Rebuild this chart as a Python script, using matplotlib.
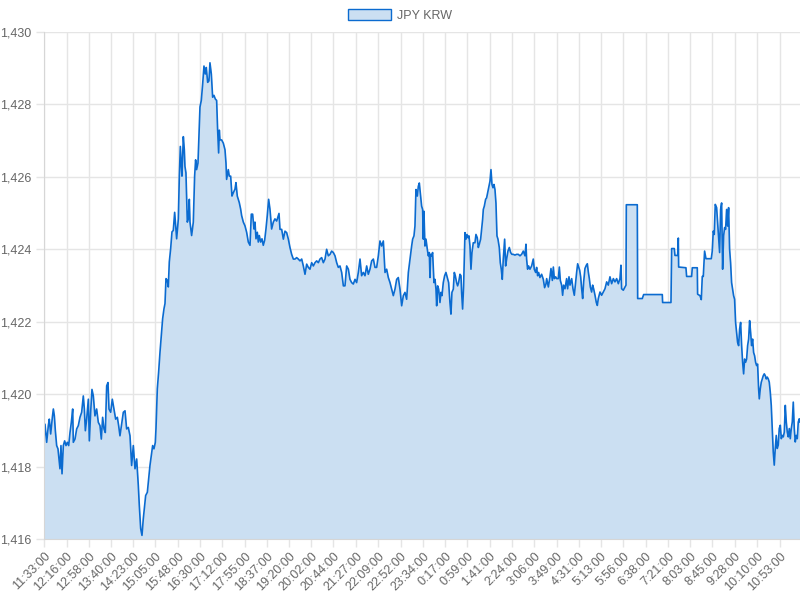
import numpy as np
import matplotlib
matplotlib.use("Agg")
import matplotlib.pyplot as plt
from matplotlib.patches import Patch
from matplotlib.ticker import FuncFormatter

# JPY/KRW readings: minutes after 11:33 and rate
minutes = [
    0.0, 1.9, 5.1, 8.2, 10.1, 12.7, 15.9, 17.8, 19.7, 21.6,
    24.1, 26.6, 28.5, 30.4, 32.3, 34.3, 36.8, 39.3, 41.9, 44.4,
    47.0, 49.5, 52.0, 54.6, 55.8, 59.0, 62.2, 65.3, 68.5, 71.7,
    74.8, 76.8, 78.7, 81.2, 84.4, 86.3, 88.8, 91.3, 93.9, 97.0,
    100.2, 103.4, 106.6, 109.1, 111.6, 114.2, 116.7, 119.3, 121.8, 123.7,
    126.9, 130.0, 133.2, 136.4, 139.6, 142.1, 144.6, 147.8, 151.0, 154.2,
    157.3, 160.5, 163.7, 166.8, 170.0, 173.2, 176.4, 179.5, 181.4, 184.0,
    186.5, 189.0, 190.9, 193.5, 196.7, 199.2, 201.7, 204.9, 206.8, 209.3,
    211.9, 213.2, 215.7, 218.2, 220.8, 223.3, 225.8, 228.4, 230.3, 232.2,
    234.7, 236.6, 238.5, 241.1, 243.6, 246.1, 248.7, 250.6, 252.5, 255.7,
    257.6, 259.5, 261.4, 262.6, 265.2, 267.1, 268.3, 270.2, 272.8, 274.7,
    276.6, 277.9, 281.0, 284.2, 286.7, 288.6, 290.5, 293.1, 295.0, 296.9,
    299.4, 302.0, 304.5, 307.0, 308.9, 311.5, 314.0, 315.9, 318.5, 321.0,
    323.5, 326.1, 328.6, 330.5, 332.4, 333.7, 335.0, 338.1, 341.3, 344.5,
    346.4, 347.6, 350.8, 352.7, 355.3, 357.8, 360.3, 363.5, 365.4, 367.9,
    371.7, 374.3, 376.2, 379.4, 382.5, 385.7, 388.9, 392.1, 394.6, 397.1,
    399.7, 401.6, 403.5, 406.0, 407.9, 409.8, 412.4, 414.9, 417.4, 420.0,
    422.5, 425.0, 427.6, 430.1, 433.3, 436.5, 439.6, 442.9, 447.3, 449.2,
    452.4, 455.6, 458.7, 461.9, 465.1, 468.2, 471.4, 474.6, 477.8, 480.9,
    484.1, 487.3, 490.5, 493.6, 496.8, 500.0, 503.1, 506.3, 509.5, 512.7,
    515.8, 519.0, 522.2, 525.3, 528.5, 531.7, 534.9, 538.0, 541.2, 544.4,
    547.5, 550.7, 553.9, 557.1, 560.2, 563.4, 566.6, 569.8, 572.9, 576.1,
    579.3, 582.4, 585.6, 588.8, 592.0, 595.1, 598.3, 601.5, 604.6, 607.8,
    611.0, 614.2, 617.3, 620.5, 623.7, 626.9, 630.0, 633.2, 636.4, 639.5,
    642.7, 645.9, 649.1, 652.2, 655.4, 658.6, 661.7, 664.9, 668.1, 671.3,
    674.4, 677.6, 680.8, 684.0, 687.1, 690.3, 693.5, 696.6, 699.8, 701.7,
    704.2, 706.1, 708.0, 710.6, 712.5, 714.4, 716.9, 718.8, 720.7, 722.0,
    723.2, 725.1, 727.1, 729.6, 731.5, 733.4, 734.7, 736.0, 737.8, 739.7,
    742.3, 744.2, 746.1, 747.4, 749.3, 751.2, 753.7, 755.6, 757.5, 760.0,
    762.6, 765.1, 767.7, 770.2, 772.7, 774.6, 776.5, 779.1, 781.0, 782.9,
    785.4, 787.3, 789.2, 791.8, 793.7, 794.9, 796.8, 798.7, 801.3, 803.2,
    805.1, 807.0, 808.9, 810.8, 812.7, 814.6, 817.1, 820.3, 822.2, 824.7,
    826.7, 828.6, 831.1, 833.0, 834.9, 836.2, 838.1, 840.6, 842.5, 845.1,
    847.0, 848.9, 850.8, 852.7, 854.6, 856.5, 858.4, 860.3, 862.2, 864.1,
    866.6, 868.5, 870.4, 872.3, 874.2, 876.8, 878.7, 880.6, 883.1, 885.7,
    888.2, 890.7, 893.3, 896.4, 899.6, 902.8, 906.0, 909.1, 912.3, 915.5,
    917.4, 918.6, 920.5, 922.4, 925.0, 928.2, 931.3, 933.2, 935.8, 937.7,
    939.6, 941.5, 944.0, 947.2, 950.4, 952.9, 955.4, 956.8, 960.0, 963.1,
    965.0, 967.6, 969.5, 971.4, 973.9, 975.8, 979.0, 980.9, 982.8, 985.3,
    987.2, 989.1, 991.7, 994.8, 996.7, 999.3, 1001.2, 1004.4, 1006.9, 1009.4,
    1012.0, 1013.9, 1015.8, 1017.7, 1019.6, 1021.5, 1023.4, 1025.3, 1027.2, 1029.7,
    1032.3, 1034.2, 1036.1, 1038.0, 1039.9, 1042.4, 1044.3, 1046.2, 1048.8, 1051.3,
    1053.2, 1055.1, 1058.3, 1061.4, 1064.6, 1067.8, 1071.0, 1074.1, 1077.3, 1080.5,
    1083.7, 1086.8, 1090.0, 1093.2, 1096.3, 1098.2, 1099.5, 1102.7, 1105.9, 1107.8,
    1108.4, 1129.3, 1130.0, 1138.8, 1141.4, 1176.9, 1177.5, 1193.4, 1194.7, 1199.7,
    1201.0, 1206.1, 1207.4, 1208.0, 1221.9, 1223.2, 1232.7, 1234.0, 1243.5, 1244.1,
    1248.6, 1251.1, 1253.0, 1254.9, 1257.4, 1260.0, 1270.1, 1272.0, 1273.9, 1275.8,
    1277.7, 1280.3, 1282.2, 1284.1, 1286.0, 1287.9, 1289.8, 1291.7, 1293.6, 1295.5,
    1297.4, 1299.3, 1301.2, 1303.1, 1305.0, 1306.9, 1308.8, 1310.7, 1312.6, 1314.5,
    1316.4, 1318.3, 1320.2, 1322.2, 1324.1, 1326.0, 1327.9, 1329.8, 1331.7, 1333.6,
    1335.5, 1337.4, 1339.3, 1341.2, 1343.1, 1345.0, 1346.9, 1348.8, 1350.7, 1352.6,
    1354.5, 1356.4, 1358.3, 1360.2, 1361.5, 1363.4, 1365.3, 1367.2, 1369.1, 1371.0,
    1372.9, 1374.8, 1376.7, 1378.6, 1380.5, 1382.4, 1384.3, 1386.2, 1388.1, 1390.0,
    1391.9, 1393.8, 1395.7, 1397.6, 1399.5, 1401.5, 1403.4, 1405.3, 1407.2, 1409.1,
    1411.0, 1412.9, 1414.8, 1416.7, 1418.6, 1420.5, 1422.4, 1424.3, 1426.2, 1428.1,
    1430.0, 1431.9, 1433.8, 1435.7, 1437.6, 1438.9,
]
rate = [
    1418.76, 1419.17, 1418.67, 1419.13, 1419.31, 1418.90, 1419.36, 1419.59, 1419.40, 1418.99,
    1418.58, 1418.49, 1418.21, 1417.94, 1418.58, 1417.80, 1418.58, 1418.71, 1418.58, 1418.67,
    1418.58, 1418.94, 1419.22, 1419.59, 1418.67, 1418.76, 1419.04, 1419.13, 1419.36, 1419.50,
    1419.95, 1419.59, 1418.99, 1419.31, 1419.86, 1418.71, 1419.50, 1420.13, 1419.95, 1419.40,
    1419.59, 1419.22, 1419.13, 1418.76, 1419.36, 1419.04, 1418.94, 1420.23, 1420.32, 1419.59,
    1419.50, 1419.86, 1419.59, 1419.31, 1419.36, 1419.13, 1418.85, 1419.17, 1419.50, 1419.54,
    1419.04, 1419.08, 1418.85, 1418.03, 1418.58, 1417.94, 1418.21, 1417.48, 1416.93, 1416.29,
    1416.10, 1416.56, 1416.83, 1417.20, 1417.29, 1417.66, 1418.03, 1418.39, 1418.58, 1418.49,
    1418.67, 1419.06, 1420.15, 1420.61, 1421.16, 1421.62, 1422.08, 1422.36, 1422.50, 1423.19,
    1423.14, 1422.96, 1423.65, 1424.02, 1424.48, 1424.52, 1425.02, 1424.65, 1424.29, 1424.84,
    1426.02, 1426.84, 1426.29, 1426.02, 1427.11, 1426.75, 1426.29, 1426.11, 1424.75, 1424.84,
    1425.38, 1424.75, 1424.38, 1424.75, 1426.02, 1426.47, 1426.20, 1426.38, 1427.20, 1427.93,
    1428.11, 1428.56, 1429.06, 1428.84, 1429.02, 1428.61, 1428.65, 1429.15, 1428.84, 1428.20,
    1428.25, 1428.15, 1428.11, 1427.29, 1426.66, 1427.29, 1427.02, 1427.02, 1426.93, 1426.75,
    1426.38, 1425.93, 1426.20, 1426.02, 1426.02, 1425.47, 1425.56, 1425.66, 1425.84, 1425.47,
    1425.29, 1425.11, 1424.93, 1424.75, 1424.65, 1424.47, 1424.20, 1424.11, 1424.97, 1424.97,
    1424.56, 1424.75, 1424.29, 1424.47, 1424.20, 1424.38, 1424.20, 1424.29, 1424.11, 1424.25,
    1424.56, 1424.93, 1425.38, 1425.11, 1424.56, 1424.75, 1424.84, 1424.78, 1424.99, 1424.55,
    1424.55, 1424.28, 1424.50, 1424.46, 1424.28, 1424.05, 1423.86, 1423.73, 1423.73, 1423.77,
    1423.73, 1423.68, 1423.73, 1423.54, 1423.31, 1423.59, 1423.50, 1423.45, 1423.63, 1423.54,
    1423.63, 1423.68, 1423.63, 1423.73, 1423.77, 1423.63, 1423.73, 1424.00, 1423.82, 1423.86,
    1423.95, 1423.91, 1423.82, 1423.63, 1423.50, 1423.54, 1423.36, 1422.99, 1422.99, 1423.54,
    1423.45, 1423.17, 1423.08, 1423.04, 1423.17, 1423.08, 1423.36, 1423.73, 1423.27, 1423.36,
    1423.27, 1423.54, 1423.31, 1423.45, 1423.68, 1423.73, 1423.50, 1423.50, 1423.82, 1424.23,
    1424.09, 1424.23, 1423.36, 1423.45, 1423.22, 1423.08, 1422.90, 1422.72, 1422.90, 1423.17,
    1423.22, 1422.90, 1422.44, 1422.72, 1422.81, 1422.62, 1423.36, 1423.73, 1424.09, 1424.28,
    1424.37, 1424.64, 1425.65, 1425.47, 1425.74, 1425.83, 1425.47, 1425.19, 1425.10, 1424.28,
    1425.05, 1424.09, 1424.28, 1424.00, 1423.82, 1423.91, 1423.22, 1423.86, 1423.82, 1423.91,
    1423.08, 1423.17, 1422.90, 1422.44, 1422.99, 1422.90, 1422.53, 1422.81, 1422.72, 1423.08,
    1423.27, 1423.36, 1423.22, 1423.08, 1422.53, 1422.21, 1422.81, 1422.90, 1423.36, 1423.27,
    1423.08, 1422.99, 1423.08, 1423.31, 1423.27, 1422.81, 1422.35, 1422.99, 1424.46, 1424.28,
    1424.41, 1424.32, 1424.37, 1424.09, 1423.45, 1423.91, 1424.18, 1424.18, 1424.41, 1424.32,
    1424.05, 1424.14, 1424.28, 1424.55, 1424.83, 1425.10, 1425.19, 1425.38, 1425.42, 1425.61,
    1425.74, 1425.88, 1426.20, 1425.79, 1425.70, 1425.79, 1425.65, 1425.27, 1424.37, 1424.28,
    1424.05, 1423.63, 1423.45, 1423.17, 1423.73, 1424.28, 1423.54, 1423.73, 1423.95, 1424.05,
    1423.91, 1423.86, 1423.86, 1423.84, 1423.86, 1423.86, 1423.82, 1423.86, 1423.95, 1423.82,
    1424.14, 1423.73, 1423.45, 1423.54, 1423.45, 1423.54, 1423.73, 1423.45, 1423.36, 1423.50,
    1423.27, 1423.36, 1423.22, 1423.31, 1423.17, 1422.94, 1423.04, 1423.19, 1422.96, 1423.24,
    1423.47, 1423.14, 1423.51, 1423.19, 1423.24, 1423.19, 1423.19, 1423.51, 1423.14, 1423.01,
    1422.73, 1423.01, 1422.91, 1423.19, 1422.91, 1423.24, 1423.01, 1423.19, 1422.91, 1422.73,
    1423.10, 1423.37, 1423.60, 1423.51, 1423.42, 1423.24, 1422.91, 1422.64, 1423.10, 1423.47,
    1423.56, 1423.60, 1423.37, 1423.19, 1422.96, 1422.82, 1423.01, 1422.91, 1422.73, 1422.53,
    1422.45, 1422.64, 1422.82, 1422.73, 1422.82, 1422.91, 1423.10, 1423.01, 1423.24, 1423.05,
    1423.19, 1423.10, 1423.19, 1423.05, 1423.19, 1423.56, 1422.91, 1422.87, 1422.96, 1423.01,
    1425.23, 1425.23, 1422.64, 1422.64, 1422.75, 1422.75, 1422.53, 1422.53, 1424.02, 1424.02,
    1423.83, 1423.83, 1424.31, 1423.51, 1423.49, 1423.25, 1423.25, 1423.49, 1423.49, 1422.76,
    1422.72, 1422.61, 1423.25, 1423.25, 1423.95, 1423.74, 1423.74, 1423.95, 1424.50, 1424.41,
    1425.24, 1425.15, 1424.73, 1424.28, 1423.91, 1425.10, 1425.28, 1423.45, 1424.37, 1424.60,
    1424.55, 1425.10, 1424.64, 1425.15, 1424.00, 1423.63, 1423.08, 1422.90, 1422.72, 1422.62,
    1421.98, 1421.70, 1421.43, 1421.34, 1421.80, 1421.98, 1421.34, 1420.88, 1420.56, 1420.97,
    1420.88, 1420.97, 1421.34, 1421.52, 1422.03, 1421.71, 1421.34, 1421.52, 1421.15, 1421.06,
    1420.88, 1420.79, 1420.83, 1420.15, 1419.87, 1420.15, 1420.33, 1420.42, 1420.51, 1420.56,
    1420.51, 1420.42, 1420.47, 1420.42, 1420.33, 1420.06, 1419.69, 1419.05, 1418.40, 1418.04,
    1418.50, 1418.86, 1418.50, 1418.59, 1419.05, 1419.14, 1418.77, 1418.86, 1418.82, 1418.95,
    1419.69, 1419.23, 1418.95, 1418.82, 1419.05, 1418.77, 1419.05, 1419.23, 1419.78, 1419.05,
    1418.68, 1418.86, 1418.77, 1419.23, 1419.32, 1419.23,
]

tick_labels = ["11:33:00", "12:16:00", "12:58:00", "13:40:00", "14:23:00", "15:05:00",
               "15:48:00", "16:30:00", "17:12:00", "17:55:00", "18:37:00", "19:20:00",
               "20:02:00", "20:44:00", "21:27:00", "22:09:00", "22:52:00", "23:34:00",
               "0:17:00", "0:59:00", "1:41:00", "2:24:00", "3:06:00", "3:49:00",
               "4:31:00", "5:13:00", "5:56:00", "6:38:00", "7:21:00", "8:03:00",
               "8:45:00", "9:28:00", "10:10:00", "10:53:00"]
series_name = "JPY KRW"

assert len(minutes) == len(rate)


def to_min(s):
    h, m, _ = s.split(":")
    return int(h) * 60 + int(m)


start = to_min(tick_labels[0])
tick_pos = [(to_min(s) - start) % 1440 for s in tick_labels]

line_c = "#0b6bd0"
fill_c = "#cbdff2"
grid_c = "#e5e5e5"
txt_c = "#666666"

plt.rcParams["font.family"] = ["Liberation Sans", "DejaVu Sans"]

fig = plt.figure(figsize=(8, 6), dpi=100)
ax = fig.add_axes([44 / 800, 61 / 600, 756 / 800, 507 / 600])

ax.fill_between(minutes, rate, 1416, color=fill_c, lw=0)
ax.plot(minutes, rate, color=line_c, lw=1.2)

ax.set_xlim(0, 1439)
ax.set_ylim(1416, 1430)
ax.set_yticks(np.arange(1416, 1431, 2))
ax.yaxis.set_major_formatter(FuncFormatter(lambda v, p: f"{v:,.0f}"))
ax.set_xticks(tick_pos)
ax.set_xticklabels(tick_labels, rotation=45, ha="right", rotation_mode="anchor")

ax.grid(True, color=grid_c, lw=1)
ax.set_axisbelow(True)
for side in ["top", "right"]:
    ax.spines[side].set_visible(False)
for side in ["left", "bottom"]:
    ax.spines[side].set_color("#d6d6d6")
ax.tick_params(axis="both", colors=grid_c, labelcolor=txt_c, labelsize=9,
               length=6, width=1)
ax.tick_params(axis="y", pad=3)
ax.tick_params(axis="x", pad=2)

handle = Patch(facecolor=fill_c, edgecolor=line_c, lw=1)
fig.legend([handle], [series_name], loc="center", bbox_to_anchor=(0.5, 1 - 15.5 / 600),
           frameon=False, fontsize=9, labelcolor=txt_c, handlelength=3.4,
           handleheight=1.0, handletextpad=0.5)

fig.savefig("out.png", dpi=100)
